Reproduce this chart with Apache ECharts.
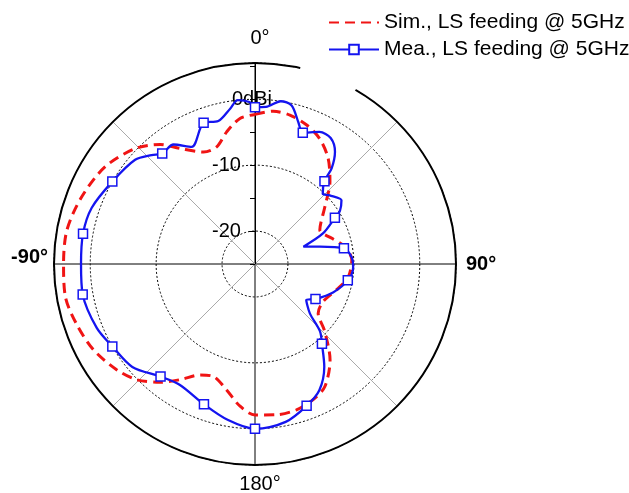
<!DOCTYPE html>
<html>
<head>
<meta charset="utf-8">
<script src="https://cdn.jsdelivr.net/npm/echarts@6/dist/echarts.min.js"></script>
<style>
    html, body {margin: 0; padding: 0; background: #fff;}
    #chart {width: 629px; height: 493px;}
</style>
</head>
<body>
<div id="chart"></div>
<script>
// simulated pattern, angle in degrees, gain in dBi
let simAngles = [0, 6.8, 13.2, 20.4, 27.3, 34.7, 42.3, 50.7, 62.4, 71.5, 79.1, 87.6, 97.8, 106.3, 118.9, 127.9, 134, 142,
    150.3, 156.8, 164.1, 171.8, 180, 186, 192.7, 200.3, 206.4, 212.9, 218.7, 225.6, 232.5, 242, 251.1, 260.2, 270,
    280.2, 291.2, 303, 313.9, 321.6, 327, 335.3, 341.9, 347.9, 354.1, 360];
let simValues = [-2.3, -1.65, -1.8, -2.5, -3.6, -5.5, -8.1, -11.3, -13.9, -12.7, -11.1, -10.3, -10.7, -11.85, -13.2, -12.85,
    -10.3, -6.5, -3.6, -2.6, -2.0, -1.9, -2.1, -3.3, -5.4, -6.8, -6.2, -4.1, -2.0, 0.1, 1.4, 2.75, 3.55, 4.2, 4.05,
    4.0, 3.2, 2.1, 0.25, -1.85, -4.1, -6.3, -6.3, -4.5, -2.8, -2.3];

// measured pattern
let meaAngles = [0, 4, 9, 13, 17, 20, 26, 31, 35.5, 38.7, 40, 44, 47.4, 53.6, 58, 60, 65.8, 70.3, 75, 80, 86, 92, 100,
    110, 120, 125, 132, 136, 140, 146, 153, 160, 169, 180, 190, 200, 212, 220, 230, 240, 248, 260, 270, 280, 289, 300,
    311, 316.5, 320, 325.7, 331.6, 340, 345.6, 351, 354, 358, 360];
let meaValues = [-1.2, -1.1, 0.0, -0.3, -2.5, -3.8, -2.7, -2.7, -4.1, -6.4, -8.6, -10.2, -9.6, -8.7, -9.8, -11.0, -13.7,
    -17.2, -14.8, -11.3, -10.3, -10.1, -10.7, -12.4, -14.4, -15.5, -13.8, -10.8, -9.2, -6.2, -3.5, -2.1, -0.6, 0.0,
    -1.0, -2.35, -3.4, -2.7, -0.7, 0.0, 0.9, 1.55, 1.4, 1.5, 1.2, 0.0, -0.9, -2.2, -3.1, -3.05, -4.8, -2.2, -2.6, -1.1,
    0.0, -0.4, -1.2];
let meaMarkerAngles = [0, 20, 40, 60, 80, 100, 120, 140, 160, 180, 200, 220, 240, 260, 280, 300, 320, 340];

let radiusLabels = {'-20': '-20', '-10': '-10', '0': '0dBi'};
let seriesNames = ['Sim., LS feeding @ 5GHz', 'Mea., LS feeding @ 5GHz'];

let font = 'Liberation Sans, Arial, sans-serif';

let simData = simAngles.map(function (a, i) {
    return [simValues[i], a];
});
let meaData = meaAngles.map(function (a, i) {
    let item = {value: [meaValues[i], a]};
    if (meaMarkerAngles.indexOf(a) < 0) {
        item.symbol = 'none';
    }
    return item;
});

let chart = echarts.init(document.getElementById('chart'), null, {renderer: 'canvas'});
chart.setOption({
    animation: false,
    backgroundColor: '#fff',
    textStyle: {fontFamily: font},
    legend: {
        orient: 'vertical',
        left: 323,
        top: 7,
        itemWidth: 50,
        itemHeight: 12,
        itemGap: 6,
        textStyle: {fontSize: 21, color: '#000', fontFamily: font},
        data: [
            {name: seriesNames[0], itemStyle: {opacity: 0}},
            {name: seriesNames[1]}
        ]
    },
    polar: {
        center: [255, 264],
        radius: 201
    },
    angleAxis: {
        type: 'value',
        min: 0,
        max: 360,
        interval: 45,
        startAngle: 90,
        clockwise: true,
        axisLine: {lineStyle: {color: '#000', width: 2}},
        axisTick: {show: false},
        splitLine: {show: true, lineStyle: {color: ['#000', '#aaa'], width: 1}},
        axisLabel: {
            margin: 6,
            fontSize: 20,
            color: '#000',
            fontFamily: font,
            formatter: function (v) {
                if (v === 0) return '{t|0°}';
                if (v === 90) return '{r|90°}';
                if (v === 180) return '{b|180°}';
                if (v === 270) return '{l|-90°}';
                return '';
            },
            rich: {
                t: {fontSize: 20, padding: [0, 0, 9, 10]},
                r: {fontSize: 20, fontWeight: 'bold', padding: [0, 0, 0, 4]},
                b: {fontSize: 20, padding: [3, 0, 0, 10]},
                l: {fontSize: 20, fontWeight: 'bold', padding: [0, 0, 14, 0]}
            }
        }
    },
    radiusAxis: {
        type: 'value',
        min: -25,
        max: 5.5,
        interval: 5,
        axisLine: {lineStyle: {color: '#000', width: 1}},
        axisTick: {show: true, length: 5, lineStyle: {color: '#000'}},
        splitLine: {show: true, lineStyle: {color: ['transparent', '#000'], type: [2, 2], width: 1}},
        axisLabel: {
            margin: 43,
            align: 'left',
            fontSize: 20,
            color: '#000',
            fontFamily: font,
            formatter: function (v) {
                let s = radiusLabels[String(v)];
                if (!s) return '';
                if (v === 0) return '{s| }{n|' + s + '}';
                return '{n|' + s + '}';
            },
            rich: {
                s: {width: 20},
                n: {fontSize: 20}
            }
        }
    },
    graphic: [{
        // break in the outer ring next to the legend
        type: 'arc',
        z: 100,
        shape: {cx: 255, cy: 264, r: 201, startAngle: -77 * Math.PI / 180, endAngle: -60 * Math.PI / 180},
        style: {stroke: '#fff', lineWidth: 5, fill: null}
    }],
    series: [
        {
            name: seriesNames[0],
            type: 'line',
            coordinateSystem: 'polar',
            data: simData,
            symbol: 'none',
            smooth: 0.3,
            lineStyle: {color: '#f01414', width: 3, type: [10, 6]},
            itemStyle: {color: '#f01414'}
        },
        {
            name: seriesNames[1],
            type: 'line',
            coordinateSystem: 'polar',
            data: meaData,
            symbol: 'rect',
            symbolSize: 9,
            smooth: 0.3,
            lineStyle: {color: '#1414f0', width: 2.3},
            itemStyle: {color: '#fff', borderColor: '#1414f0', borderWidth: 1.5}
        }
    ]
});
</script>
</body>
</html>
